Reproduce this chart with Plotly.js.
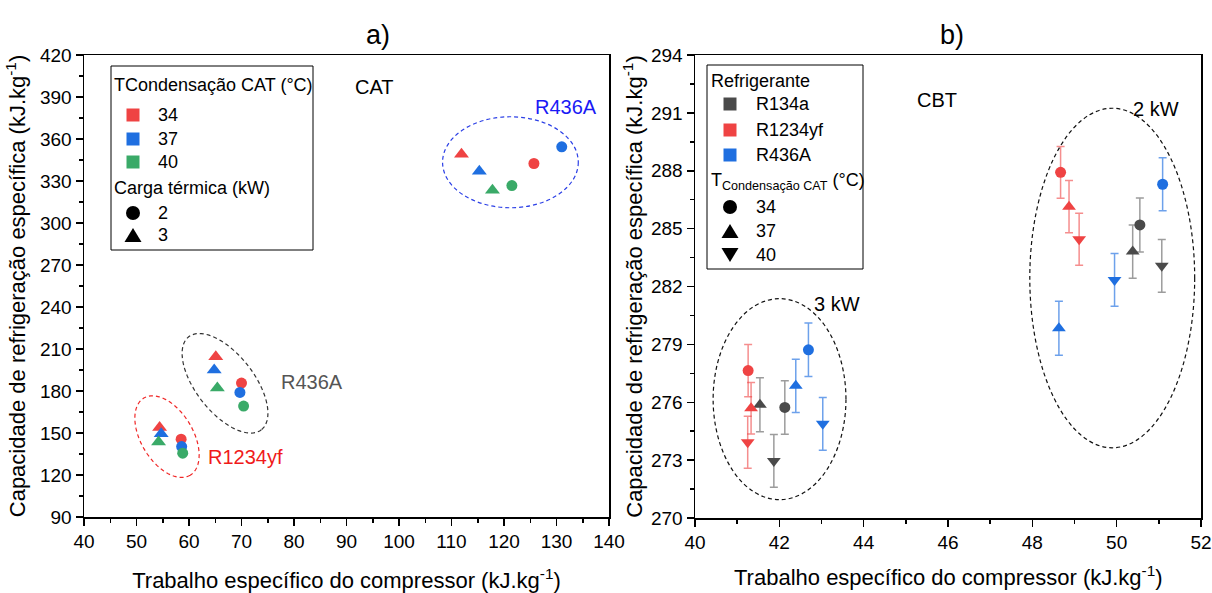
<!DOCTYPE html>
<html>
<head>
<meta charset="utf-8">
<script src="https://cdn.plot.ly/plotly-3.0.1.min.js"></script>
<style>html,body{margin:0;padding:0;background:#fff;}#chart{width:1212px;height:593px;}</style>
</head>
<body>
<div id="chart"></div>
<script>
// ---------------- DATA ----------------
// Panel a) CAT : index order = TCondensação 34, 37, 40 °C
const catTemps = ['34', '37', '40'];
const catLoads = ['2', '3'];
// R1234yf group (bottom)
const catR1234yf_x2 = [58.5, 58.6, 58.8];
const catR1234yf_y2 = [145.6, 140.3, 135.6];
const catR1234yf_x3 = [54.4, 54.7, 54.2];
const catR1234yf_y3 = [154.0, 149.5, 143.5];
// gray "R436A" group (middle)
const catMid_x2 = [70.0, 69.7, 70.4];
const catMid_y2 = [185.7, 179.0, 169.2];
const catMid_x3 = [65.1, 64.8, 65.4];
const catMid_y3 = [204.5, 195.0, 182.1];
// blue "R436A" group (top)
const catTop_x2 = [125.7, 131.0, 121.5];
const catTop_y2 = [342.5, 354.4, 326.7];
const catTop_x3 = [111.9, 115.3, 117.8];
const catTop_y3 = [349.1, 337.0, 323.4];

// Panel b) CBT : index order = TCondensação 34, 37, 40 °C
const cbtRefrigerants = ['R134a', 'R1234yf', 'R436A'];
const cbtTemps = ['34', '37', '40'];
const cbtR134a_x2 = [50.55, 50.38, 51.07];
const cbtR134a_y2 = [285.19, 283.81, 283.07];
const cbtR134a_e2 = [1.40, 1.38, 1.37];
const cbtR134a_x3 = [42.13, 41.54, 41.87];
const cbtR134a_y3 = [275.73, 275.87, 272.96];
const cbtR134a_e3 = [1.39, 1.40, 1.37];
const cbtR1234yf_x2 = [48.67, 48.87, 49.11];
const cbtR1234yf_y2 = [287.92, 286.14, 284.45];
const cbtR1234yf_e2 = [1.34, 1.36, 1.35];
const cbtR1234yf_x3 = [41.26, 41.33, 41.25];
const cbtR1234yf_y3 = [277.64, 275.69, 273.93];
const cbtR1234yf_e3 = [1.35, 1.34, 1.35];
const cbtR436A_x2 = [51.09, 48.63, 49.95];
const cbtR436A_y2 = [287.30, 279.84, 282.34];
const cbtR436A_e2 = [1.37, 1.40, 1.37];
const cbtR436A_x3 = [42.69, 42.39, 43.03];
const cbtR436A_y3 = [278.72, 276.85, 274.88];
const cbtR436A_e3 = [1.39, 1.38, 1.37];

// ---------------- STYLE ----------------
const W = 1212, H = 593;
const FONT = 'Arial, "Liberation Sans", sans-serif';
const RED = '#EF4343', BLUE = '#1F6FE0', GREEN = '#3AAA68', GRAY = '#4A4A4A';
const tempColors = [RED, BLUE, GREEN];
const refColors = [GRAY, RED, BLUE];
const refErrColors = ['rgba(74,74,74,0.55)', 'rgba(239,67,67,0.6)', 'rgba(31,111,224,0.65)'];
const tempSymbols = ['circle', 'triangle-up', 'triangle-down'];

const LXpx = [84, 609], LYpx = [55, 517];
const RXpx = [695, 1201], RYpx = [55, 518];
const catXRange = [40, 140], catYRange = [90, 420];
const cbtXRange = [40, 52], cbtYRange = [270, 294];

const px = x => x / W;
const py = y => 1 - y / H;

// ---------------- TRACES ----------------
const traces = [];
const catX2 = [catR1234yf_x2, catMid_x2, catTop_x2];
const catY2 = [catR1234yf_y2, catMid_y2, catTop_y2];
const catX3 = [catR1234yf_x3, catMid_x3, catTop_x3];
const catY3 = [catR1234yf_y3, catMid_y3, catTop_y3];
for (let t = 0; t < 3; t++) {
  traces.push({
    type: 'scatter', mode: 'markers', xaxis: 'x', yaxis: 'y', showlegend: false,
    name: catTemps[t] + ' °C, 3 kW',
    x: catX3.map(a => a[t]), y: catY3.map(a => a[t]),
    marker: {symbol: 'triangle-up', size: 13, color: tempColors[t]}
  });
  traces.push({
    type: 'scatter', mode: 'markers', xaxis: 'x', yaxis: 'y', showlegend: false,
    name: catTemps[t] + ' °C, 2 kW',
    x: catX2.map(a => a[t]), y: catY2.map(a => a[t]),
    marker: {symbol: 'circle', size: 11, color: tempColors[t]}
  });
}

const cbtX2 = [cbtR134a_x2, cbtR1234yf_x2, cbtR436A_x2];
const cbtY2 = [cbtR134a_y2, cbtR1234yf_y2, cbtR436A_y2];
const cbtE2 = [cbtR134a_e2, cbtR1234yf_e2, cbtR436A_e2];
const cbtX3 = [cbtR134a_x3, cbtR1234yf_x3, cbtR436A_x3];
const cbtY3 = [cbtR134a_y3, cbtR1234yf_y3, cbtR436A_y3];
const cbtE3 = [cbtR134a_e3, cbtR1234yf_e3, cbtR436A_e3];
for (let r = 0; r < 3; r++) {
  for (let t = 0; t < 3; t++) {
    traces.push({
      type: 'scatter', mode: 'markers', xaxis: 'x2', yaxis: 'y2', showlegend: false,
      name: cbtRefrigerants[r] + ' ' + cbtTemps[t] + ' °C',
      x: [cbtX2[r][t], cbtX3[r][t]], y: [cbtY2[r][t], cbtY3[r][t]],
      error_y: {type: 'data', array: [cbtE2[r][t], cbtE3[r][t]], color: refErrColors[r], thickness: 1.5, width: 4},
      marker: {symbol: tempSymbols[t], size: t === 0 ? 11 : 12, color: refColors[r]}
    });
  }
}

// ---------------- ELLIPSES ----------------
// rotated ellipses: [centre x, centre y, semi-major px, semi-minor px, angle deg]
const catEllipseGray = [66.86, 185.5, 59, 29, 52];
const catEllipseRed = [55.81, 147.4, 45, 26, 59];
// axis aligned: [x0, x1, y0, y1]
const catEllipseBlue = [108.3, 134.15, 310.9, 375.9];
const cbtEllipse2kW = [47.94, 51.85, 273.64, 291.24];
const cbtEllipse3kW = [40.43, 43.58, 270.95, 281.37];

const catPxPerX = (LXpx[1] - LXpx[0]) / (catXRange[1] - catXRange[0]);
const catPxPerY = (LYpx[1] - LYpx[0]) / (catYRange[1] - catYRange[0]);
function rotEllipse(p, sx, sy) {
  const [cx, cy, a, b, ang] = p;
  const th = ang * Math.PI / 180;
  const pts = [];
  for (let k = 0; k <= 90; k++) {
    const t = 2 * Math.PI * k / 90;
    const dx = a * Math.cos(t) * Math.cos(th) - b * Math.sin(t) * Math.sin(th);
    const dy = a * Math.cos(t) * Math.sin(th) + b * Math.sin(t) * Math.cos(th);
    pts.push((cx + dx / sx).toFixed(4) + ',' + (cy - dy / sy).toFixed(4));
  }
  return 'M' + pts.join('L') + 'Z';
}

const shapes = [
  {type: 'path', xref: 'x', yref: 'y', path: rotEllipse(catEllipseGray, catPxPerX, catPxPerY),
   line: {color: '#333333', width: 1.2, dash: '4px,3px'}},
  {type: 'path', xref: 'x', yref: 'y', path: rotEllipse(catEllipseRed, catPxPerX, catPxPerY),
   line: {color: '#F02828', width: 1.2, dash: '4px,3px'}},
  {type: 'circle', xref: 'x', yref: 'y', x0: catEllipseBlue[0], x1: catEllipseBlue[1], y0: catEllipseBlue[2], y1: catEllipseBlue[3],
   line: {color: '#2B3FE6', width: 1.2, dash: '4px,3px'}},
  {type: 'circle', xref: 'x2', yref: 'y2', x0: cbtEllipse2kW[0], x1: cbtEllipse2kW[1], y0: cbtEllipse2kW[2], y1: cbtEllipse2kW[3],
   line: {color: '#111111', width: 1.2, dash: '4px,3px'}},
  {type: 'circle', xref: 'x2', yref: 'y2', x0: cbtEllipse3kW[0], x1: cbtEllipse3kW[1], y0: cbtEllipse3kW[2], y1: cbtEllipse3kW[3],
   line: {color: '#111111', width: 1.2, dash: '4px,3px'}}
];

// ---------------- MANUAL LEGENDS ----------------
const annotations = [];
function txt(x, y, s, size, opts) {
  annotations.push(Object.assign({xref: 'paper', yref: 'paper', x: px(x), y: py(y), text: s, showarrow: false,
    xanchor: 'left', yanchor: 'middle', font: {family: FONT, size: size, color: 'black'}}, opts || {}));
}
function square(cx, cy, s, color) {
  shapes.push({type: 'rect', xref: 'paper', yref: 'paper', x0: px(cx - s / 2), x1: px(cx + s / 2), y0: py(cy + s / 2), y1: py(cy - s / 2),
    fillcolor: color, line: {width: 0}});
}
function dot(cx, cy, d) {
  shapes.push({type: 'circle', xref: 'paper', yref: 'paper', x0: px(cx - d / 2), x1: px(cx + d / 2), y0: py(cy + d / 2), y1: py(cy - d / 2),
    fillcolor: 'black', line: {width: 0}});
}
function tri(cx, cy, w, h, up) {
  const p = up
    ? `M${px(cx - w / 2)},${py(cy + h / 2)}L${px(cx + w / 2)},${py(cy + h / 2)}L${px(cx)},${py(cy - h / 2)}Z`
    : `M${px(cx - w / 2)},${py(cy - h / 2)}L${px(cx + w / 2)},${py(cy - h / 2)}L${px(cx)},${py(cy + h / 2)}Z`;
  shapes.push({type: 'path', xref: 'paper', yref: 'paper', path: p, fillcolor: 'black', line: {width: 0}});
}
function box(x0, y0, x1, y1) {
  shapes.push({type: 'rect', xref: 'paper', yref: 'paper', x0: px(x0), x1: px(x1), y0: py(y1), y1: py(y0),
    fillcolor: 'white', line: {color: 'black', width: 1}, layer: 'above'});
}

// left legend
box(111, 66, 313, 250);
txt(112, 85, 'TCondensação CAT (°C)', 18);
[115, 139, 162].forEach((y, i) => { square(133, y, 13, tempColors[i]); txt(156, y, catTemps[i], 18); });
txt(112, 188, 'Carga térmica (kW)', 18);
dot(133, 213, 14); txt(156, 213, catLoads[0], 18);
tri(133, 235, 17, 14, true); txt(156, 235, catLoads[1], 18);

// right legend
box(707, 65, 863, 269);
txt(709, 81, 'Refrigerante', 18);
[104, 130, 155].forEach((y, i) => { square(730, y, 13, refColors[i]); txt(754, y, cbtRefrigerants[i], 18); });
txt(709, 182, 'T<sub>Condensação CAT</sub> (°C)', 18);
dot(730, 207, 14); txt(754, 207, cbtTemps[0], 18);
tri(730, 231, 17, 14, true); txt(754, 231, cbtTemps[1], 18);
tri(730, 255, 17, 14, false); txt(754, 255, cbtTemps[2], 18);

// panel titles
txt(378, 35, 'a)', 27, {xanchor: 'center'});
txt(952, 35, 'b)', 27, {xanchor: 'center'});

// in-plot labels
function dtxt(xref, yref, x, y, s, color) {
  annotations.push({xref: xref, yref: yref, x: x, y: y, text: s, showarrow: false, xanchor: 'center', yanchor: 'middle',
    font: {family: FONT, size: 20, color: color}});
}
dtxt('x', 'y', 131.75, 383.1, 'R436A', '#1A1AF5');
dtxt('x', 'y', 83.4, 186.6, 'R436A', '#555555');
dtxt('x', 'y', 70.7, 133.1, 'R1234yf', '#F01A1A');
dtxt('x', 'y', 95.4, 397.1, 'CAT', '#000000');
dtxt('x2', 'y2', 45.73, 291.66, 'CBT', '#000000');
dtxt('x2', 'y2', 43.36, 281.11, '3 kW', '#000000');
dtxt('x2', 'y2', 50.94, 291.18, '2 kW', '#000000');

// ---------------- AXES ----------------
const tickfont = {family: FONT, size: 19, color: 'black'};
const titlefont = {family: FONT, size: 22, color: 'black'};
const XTITLE = 'Trabalho específico do compressor (kJ.kg<sup>-1</sup>)';
const YTITLE = 'Capacidade de refrigeração específica (kJ.kg<sup>-1</sup>)';

// right x-axis title sits lower than the left one in the reference, right at the bottom edge
txt((RXpx[0] + RXpx[1]) / 2, 592, XTITLE, 22, {xanchor: 'center', yanchor: 'bottom'});

function mainAxis(o) {
  return Object.assign({
    showline: true, linecolor: 'black', linewidth: 1.5, mirror: true,
    showgrid: false, zeroline: false, ticks: 'outside', ticklen: 7, tickwidth: 1.5, tickcolor: 'black',
    tickfont: tickfont, automargin: false
  }, o);
}
function mirrorAxis(o) {
  return Object.assign({
    showline: false, showgrid: false, zeroline: false, ticks: 'inside', ticklen: 6, tickwidth: 1.5, tickcolor: 'black',
    showticklabels: false, automargin: false
  }, o);
}

const layout = {
  width: W, height: H,
  margin: {l: 0, r: 0, t: 0, b: 0},
  paper_bgcolor: 'white', plot_bgcolor: 'white',
  showlegend: false,
  font: {family: FONT, color: 'black'},
  xaxis: mainAxis({domain: [px(LXpx[0]), px(LXpx[1])], anchor: 'y', range: catXRange, tick0: 40, dtick: 10,
    minor: {ticks: 'outside', ticklen: 4, tickwidth: 1.5, dtick: 5, tickcolor: 'black'},
    title: {text: XTITLE, font: titlefont, standoff: 21}}),
  yaxis: mainAxis({domain: [py(LYpx[1]), py(LYpx[0])], anchor: 'x', range: catYRange, tick0: 90, dtick: 30,
    minor: {ticks: 'outside', ticklen: 4, tickwidth: 1.5, dtick: 15, tickcolor: 'black'},
    title: {text: YTITLE, font: titlefont, standoff: 8}}),
  xaxis3: mirrorAxis({overlaying: 'x', anchor: 'y', side: 'top', range: catXRange, tick0: 40, dtick: 10,
    minor: {ticks: 'inside', ticklen: 4, tickwidth: 1.5, dtick: 5, tickcolor: 'black'}}),
  yaxis3: mirrorAxis({overlaying: 'y', anchor: 'x', side: 'right', range: catYRange, tick0: 90, dtick: 30,
    minor: {ticks: 'inside', ticklen: 4, tickwidth: 1.5, dtick: 15, tickcolor: 'black'}}),
  xaxis2: mainAxis({domain: [px(RXpx[0]), px(RXpx[1])], anchor: 'y2', range: cbtXRange, tick0: 40, dtick: 2,
    minor: {ticks: 'outside', ticklen: 4, tickwidth: 1.5, dtick: 1, tickcolor: 'black'}}),
  yaxis2: mainAxis({domain: [py(RYpx[1]), py(RYpx[0])], anchor: 'x2', range: cbtYRange, tick0: 270, dtick: 3,
    minor: {ticks: 'outside', ticklen: 4, tickwidth: 1.5, dtick: 1.5, tickcolor: 'black'},
    title: {text: YTITLE, font: titlefont, standoff: 2}}),
  xaxis4: mirrorAxis({overlaying: 'x2', anchor: 'y2', side: 'top', range: cbtXRange, tick0: 40, dtick: 2,
    minor: {ticks: 'inside', ticklen: 4, tickwidth: 1.5, dtick: 1, tickcolor: 'black'}}),
  yaxis4: mirrorAxis({overlaying: 'y2', anchor: 'x2', side: 'right', range: cbtYRange, tick0: 270, dtick: 3,
    minor: {ticks: 'inside', ticklen: 4, tickwidth: 1.5, dtick: 1.5, tickcolor: 'black'}}),
  shapes: shapes,
  annotations: annotations
};

Plotly.newPlot('chart', traces, layout, {staticPlot: true, displayModeBar: false});
</script>
</body>
</html>
